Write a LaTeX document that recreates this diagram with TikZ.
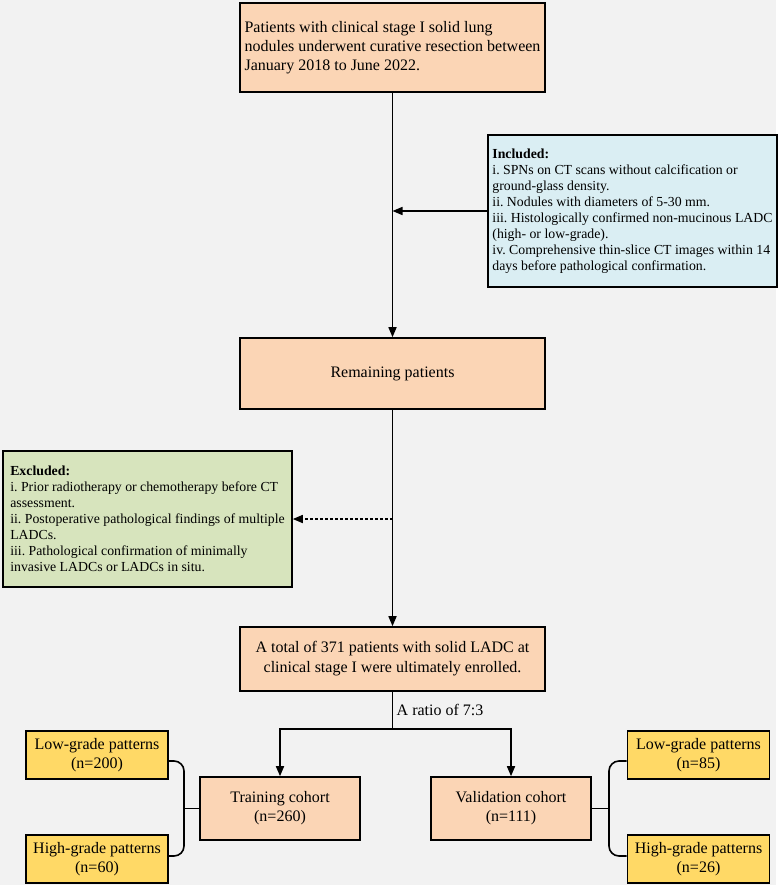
\documentclass[tikz,border=0pt]{standalone}
\usepackage{fontspec}
\setmainfont{Liberation Serif}
\usepackage{tikz}
\usetikzlibrary{arrows.meta,positioning,calc}
\definecolor{bgcol}{HTML}{F2F2F2}
\definecolor{peach}{HTML}{FBD5B5}
\definecolor{inclblue}{HTML}{DAEEF3}
\definecolor{exclgreen}{HTML}{D7E4BD}
\definecolor{gold}{HTML}{FFD966}
\frenchspacing

\begin{document}
\begin{tikzpicture}[
    x=1pt, y=-1pt,
    font=\fontsize{16}{19}\selectfont,
    box/.style={rectangle, draw, line width=1.6pt, fill=peach, minimum width=305pt, align=center, inner sep=3pt},
    note/.style={rectangle, draw, line width=1.6pt, align=left, inner sep=3pt, minimum width=289pt, font=\fontsize{13.8}{16}\selectfont},
    sub/.style={rectangle, draw, line width=1.6pt, fill=gold, minimum width=142pt, minimum height=48pt, align=center, inner sep=2pt},
    cohort/.style={box, minimum width=160pt, minimum height=63pt},
    link/.style={line width=1.6pt},
    arrow/.style={link, -{Triangle[length=10pt,width=8pt]}}
]
    \path[use as bounding box] (0,0) rectangle (780,887);
    \fill[bgcol] (0,0) rectangle (776,885);

    % Main flow
    \node[box, align=left, minimum height=89pt] (top) at (392.5,47.5) {Patients with clinical stage I solid lung\\nodules underwent curative resection between\\January 2018 to June 2022.};
    \node[box, minimum height=71pt] (remain) at (392.5,373.5) {Remaining patients};
    \node[box, minimum height=64pt, font=\fontsize{16}{20}\selectfont] (total) at (392.5,659) {A total of 371 patients with solid LADC at\\clinical stage I were ultimately enrolled.};

    % Criteria
    \node[note, fill=inclblue, minimum height=152pt] (incl) at (632.5,211) {\textbf{Included:}\\i. SPNs on CT scans without calcification or\\ground-glass density.\\ii. Nodules with diameters of 5-30 mm.\\iii. Histologically confirmed non-mucinous LADC\\(high- or low-grade).\\iv. Comprehensive thin-slice CT images within 14\\days before pathological confirmation.};
    \node[note, fill=exclgreen, minimum height=136pt] (excl) at (147.5,519) {\textbf{Excluded:}\\i. Prior radiotherapy or chemotherapy before CT\\assessment.\\ii. Postoperative pathological findings of multiple\\LADCs.\\iii. Pathological confirmation of minimally\\invasive LADCs or LADCs in situ.};

    % Cohorts
    \node[cohort] (train) at (280,808.5) {Training cohort\\(n=260)};
    \node[cohort] (valid) at (511,808.5) {Validation cohort\\(n=111)};
    \node[sub] (lowL) at (97,755) {Low-grade patterns\\(n=200)};
    \node[sub] (highL) at (97,859) {High-grade patterns\\(n=60)};
    \node[sub] (lowR) at (698.5,755) {Low-grade patterns\\(n=85)};
    \node[sub] (highR) at (698.5,859) {High-grade patterns\\(n=26)};

    % Arrows
    \coordinate (inclJoin) at (top.south |- incl.west);
    \coordinate (exclJoin) at (remain.south |- excl.east);
    \coordinate (split) at ($(total.south)+(0,37)$);
    \draw[arrow] (top) -- (remain);
    \draw[arrow] (incl.west) -- (inclJoin);
    \draw[arrow, dash pattern=on 3pt off 2pt] (exclJoin) -- (excl.east);
    \draw[arrow] (remain) -- (total);
    \draw[link] (total.south) -- (split);
    \draw[arrow] (split) -| (train.north);
    \draw[arrow] (split) -| (valid.north);
    \node[anchor=west, inner sep=0pt] (ratio) at ($(total.south)!0.5!(split)+(4,0)$) {A ratio of 7:3};

    % Braces
    \coordinate (braceL) at (184,808.5);
    \coordinate (braceR) at (609,808.5);
    \draw[link, rounded corners=10pt] ([yshift=-6pt]lowL.east) -| (braceL) |- ([yshift=3pt]highL.east);
    \draw[link] (train.west) -- (braceL);
    \draw[link, rounded corners=10pt] ([yshift=-6pt]lowR.west) -| (braceR) |- ([yshift=3pt]highR.west);
    \draw[link] (valid.east) -- (braceR);
\end{tikzpicture}
\end{document}
